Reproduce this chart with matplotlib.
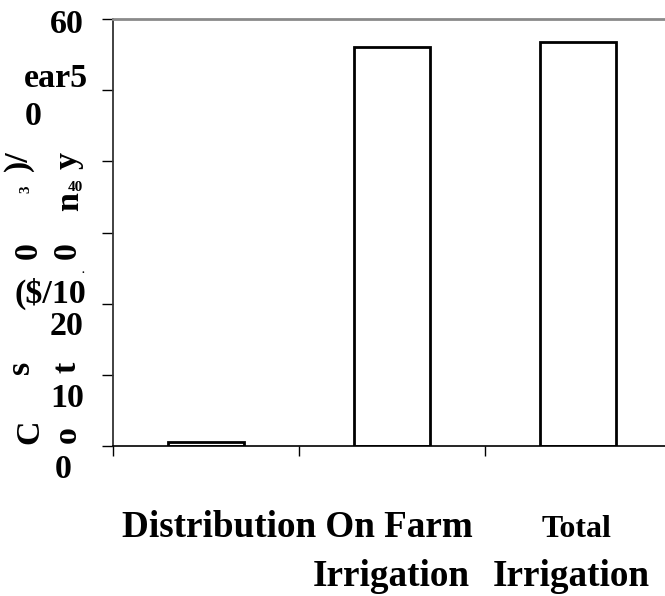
import matplotlib
matplotlib.use('Agg')
import matplotlib.pyplot as plt

# bar values (cost per 1000 m3 per year)
categories = ['Distribution', 'On Farm Irrigation', 'Total Irrigation']
costs = [0.6, 56.0, 56.7]
y_ticks = [0, 10, 20, 30, 40, 50, 60]

# broken label fragments as they appear in the source: (text, x px, y px, size)
upright_bits = [
    ('60', 50, 33, 24.5), ('ear5', 24, 87, 24.5), ('0', 25, 125, 24.5),
    ('40', 68, 191, 11), ('.', 82, 273, 8), ('($/10', 15, 303, 24.5),
    ('20', 50, 335, 24.5), ('10', 50, 407, 24.5), ('0', 55, 478, 24.5),
]
rotated_bits = [
    (')/', 27, 161, 24.5), ('3', 29, 189, 11), ('y', 77, 160, 24.5),
    ('n', 78, 202, 24.5), ('0', 37, 251, 24.5), ('0', 76, 251, 24.5),
    ('s', 29, 367, 24.5), ('t', 76, 367, 24.5), ('C', 38, 432, 24.5),
    ('o', 76, 435, 24.5),
]
category_bits = [
    ('Distribution On Farm', 122, 537, 26.7), ('Total', 542, 537, 23),
    ('Irrigation', 313, 586, 26.7), ('Irrigation', 493, 586, 26.7),
]

W, H = 665, 596
plt.rcParams['font.family'] = ['Liberation Serif', 'DejaVu Serif']
plt.rcParams['font.weight'] = 'bold'


def fx(x, y):
    return x / W, 1 - y / H


fig = plt.figure(figsize=(W / 100, H / 100), dpi=100)
ax = fig.add_axes([113 / W, 1 - 446 / H, (671 - 113) / W, (446 - 19) / H])

x = list(range(len(categories)))
ax.bar(x, costs, width=0.41, color='white', edgecolor='black', linewidth=2.0)

ax.set_xlim(-0.5, 2.5)
ax.set_ylim(0, 60)
ax.set_yticks(y_ticks)
ax.set_yticklabels([])
ax.set_xticks([-0.5, 0.5, 1.5])
ax.set_xticklabels([])
ax.tick_params(axis='y', direction='out', length=8, width=1, color='black')
ax.tick_params(axis='x', direction='out', length=7, width=1, color='black')

ax.spines['top'].set_color('#8a8a8a')
ax.spines['top'].set_linewidth(2.0)
ax.spines['left'].set_color('#333333')
ax.spines['left'].set_linewidth(1.3)
ax.spines['bottom'].set_color('black')
ax.spines['bottom'].set_linewidth(1.2)
ax.spines['right'].set_visible(False)

for txt, px, py, size in upright_bits + category_bits:
    fig.text(*fx(px, py), txt, fontsize=size, fontweight='bold',
             ha='left', va='baseline')

for txt, px, py, size in rotated_bits:
    fig.text(*fx(px, py), txt, fontsize=size, fontweight='bold',
             rotation=90, rotation_mode='anchor', ha='center', va='baseline')

fig.savefig('out.png', dpi=100)
